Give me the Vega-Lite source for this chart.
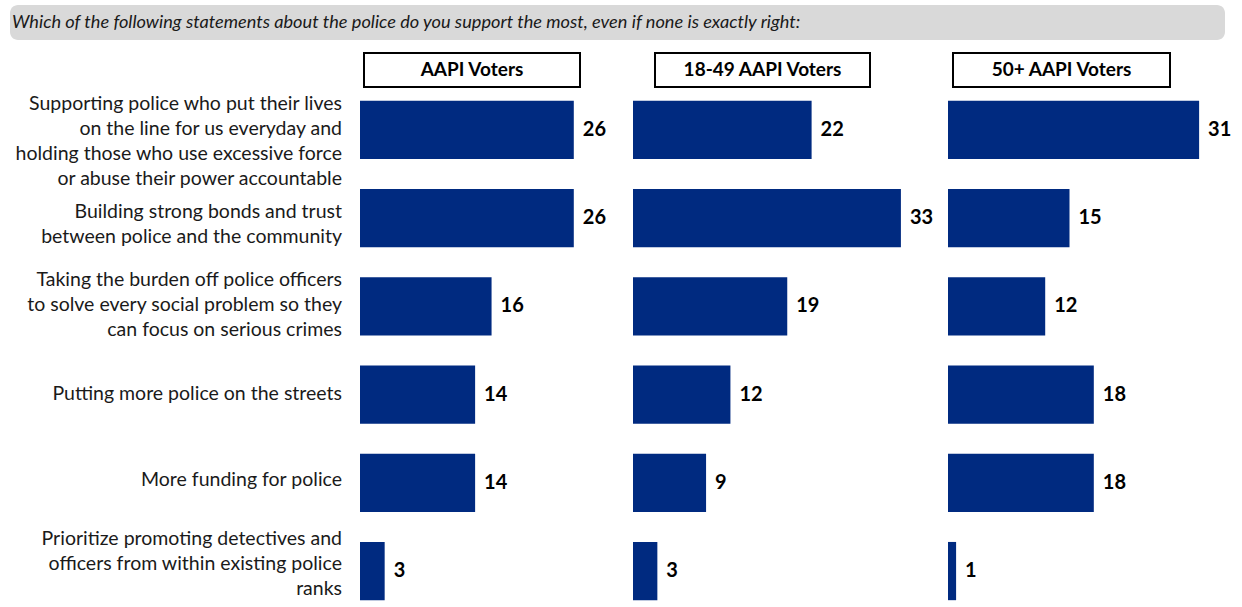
{
  "$schema": "https://vega.github.io/schema/vega-lite/v6.json",
  "padding": {"left": 10, "top": 5, "right": 0, "bottom": 0},
  "background": "white",
  "config": {"view": {"stroke": null}, "font": "Lato"},
  "datasets": {
    "bars": [
      {"group": "AAPI Voters", "statement": "Supporting police who put their lives|on the line for us everyday and|holding those who use excessive force|or abuse their power accountable", "value": 26},
      {"group": "AAPI Voters", "statement": "Building strong bonds and trust|between police and the community", "value": 26},
      {"group": "AAPI Voters", "statement": "Taking the burden off police officers|to solve every social problem so they|can focus on serious crimes", "value": 16},
      {"group": "AAPI Voters", "statement": "Putting more police on the streets", "value": 14},
      {"group": "AAPI Voters", "statement": "More funding for police", "value": 14},
      {"group": "AAPI Voters", "statement": "Prioritize promoting detectives and|officers from within existing police|ranks", "value": 3},
      {"group": "18-49 AAPI Voters", "statement": "Supporting police who put their lives|on the line for us everyday and|holding those who use excessive force|or abuse their power accountable", "value": 22},
      {"group": "18-49 AAPI Voters", "statement": "Building strong bonds and trust|between police and the community", "value": 33},
      {"group": "18-49 AAPI Voters", "statement": "Taking the burden off police officers|to solve every social problem so they|can focus on serious crimes", "value": 19},
      {"group": "18-49 AAPI Voters", "statement": "Putting more police on the streets", "value": 12},
      {"group": "18-49 AAPI Voters", "statement": "More funding for police", "value": 9},
      {"group": "18-49 AAPI Voters", "statement": "Prioritize promoting detectives and|officers from within existing police|ranks", "value": 3},
      {"group": "50+ AAPI Voters", "statement": "Supporting police who put their lives|on the line for us everyday and|holding those who use excessive force|or abuse their power accountable", "value": 31},
      {"group": "50+ AAPI Voters", "statement": "Building strong bonds and trust|between police and the community", "value": 15},
      {"group": "50+ AAPI Voters", "statement": "Taking the burden off police officers|to solve every social problem so they|can focus on serious crimes", "value": 12},
      {"group": "50+ AAPI Voters", "statement": "Putting more police on the streets", "value": 18},
      {"group": "50+ AAPI Voters", "statement": "More funding for police", "value": 18},
      {"group": "50+ AAPI Voters", "statement": "Prioritize promoting detectives and|officers from within existing police|ranks", "value": 1}
    ]
  },
  "spacing": 12,
  "vconcat": [
    {
      "data": {"values": [{"q": "Which of the following statements about the police do you support the most, even if none is exactly right:"}]},
      "width": 1215,
      "height": 35,
      "view": {"fill": "#d9d9d9", "cornerRadius": 8, "stroke": null},
      "mark": {"type": "text", "align": "left", "baseline": "middle", "dx": 2, "font": "Lato", "fontStyle": "italic", "fontSize": 18.2, "color": "#1a1a1a"},
      "encoding": {
        "text": {"field": "q"},
        "x": {"datum": 0, "type": "quantitative", "scale": {"domain": [0, 1]}, "axis": null}
      }
    },
    {
      "spacing": 4,
      "vconcat": [
        {
          "spacing": 0,
          "hconcat": [
            {"data": {"values": []}, "width": 353, "height": 34, "view": {"fill": "transparent", "stroke": null}, "mark": "text", "encoding": {}},
            {"data": {"values": [{"h": "AAPI Voters"}]}, "width": 216, "height": 34, "view": {"stroke": "black", "strokeWidth": 2, "fill": "white"}, "mark": {"type": "text", "font": "Lato", "fontWeight": "bold", "fontSize": 19, "color": "black"}, "encoding": {"text": {"field": "h"}}},
            {"data": {"values": []}, "width": 73, "height": 34, "view": {"fill": "transparent", "stroke": null}, "mark": "text", "encoding": {}},
            {"data": {"values": [{"h": "18-49 AAPI Voters"}]}, "width": 215, "height": 34, "view": {"stroke": "black", "strokeWidth": 2, "fill": "white"}, "mark": {"type": "text", "font": "Lato", "fontWeight": "bold", "fontSize": 19, "color": "black"}, "encoding": {"text": {"field": "h"}}},
            {"data": {"values": []}, "width": 81, "height": 34, "view": {"fill": "transparent", "stroke": null}, "mark": "text", "encoding": {}},
            {"data": {"values": [{"h": "50+ AAPI Voters"}]}, "width": 217, "height": 34, "view": {"stroke": "black", "strokeWidth": 2, "fill": "white"}, "mark": {"type": "text", "font": "Lato", "fontWeight": "bold", "fontSize": 19, "color": "black"}, "encoding": {"text": {"field": "h"}}}
          ]
        },
        {
          "spacing": 0,
          "hconcat": [
            {
              "data": {"name": "bars"},
              "transform": [{"filter": "datum.group == 'AAPI Voters'"}],
              "width": 350,
              "height": 517,
              "encoding": {
                "y": {"field": "statement", "type": "nominal", "sort": null,
                  "scale": {"paddingInner": 0.34, "paddingOuter": 0.1,
                    "domain": [
                      "Supporting police who put their lives|on the line for us everyday and|holding those who use excessive force|or abuse their power accountable",
                      "Building strong bonds and trust|between police and the community",
                      "Taking the burden off police officers|to solve every social problem so they|can focus on serious crimes",
                      "Putting more police on the streets",
                      "More funding for police",
                      "Prioritize promoting detectives and|officers from within existing police|ranks"
                    ]}, "axis": null},
                "x": {"datum": 1, "type": "quantitative", "scale": {"domain": [0, 1], "nice": false}, "axis": null},
                "text": {"field": "statement"}
              },
              "layer": [
                {"transform": [{"filter": "length(split(datum.statement, '|')) == 1"}],
                 "mark": {"type": "text", "align": "right", "baseline": "middle", "dx": -18, "dy": 0, "lineBreak": "|", "lineHeight": 25, "font": "Lato", "fontSize": 19.5, "color": "#1a1a1a"}},
                {"transform": [{"filter": "length(split(datum.statement, '|')) == 2"}],
                 "mark": {"type": "text", "align": "right", "baseline": "middle", "dx": -18, "dy": -9, "lineBreak": "|", "lineHeight": 25, "font": "Lato", "fontSize": 19.5, "color": "#1a1a1a"}},
                {"transform": [{"filter": "length(split(datum.statement, '|')) == 3"}],
                 "mark": {"type": "text", "align": "right", "baseline": "middle", "dx": -18, "dy": -27, "lineBreak": "|", "lineHeight": 25, "font": "Lato", "fontSize": 19.5, "color": "#1a1a1a"}},
                {"transform": [{"filter": "length(split(datum.statement, '|')) == 4"}],
                 "mark": {"type": "text", "align": "right", "baseline": "middle", "dx": -18, "dy": -31, "lineBreak": "|", "lineHeight": 25, "font": "Lato", "fontSize": 19.5, "color": "#1a1a1a"}}
              ]
            },
            {
              "data": {"name": "bars"},
              "transform": [{"filter": "datum.group == 'AAPI Voters'"}],
              "width": 273,
              "height": 517,
              "encoding": {
                "y": {"field": "statement", "type": "nominal", "sort": null,
                  "scale": {"paddingInner": 0.34, "paddingOuter": 0.1}, "axis": null},
                "x": {"field": "value", "type": "quantitative", "scale": {"domain": [0, 33.2], "nice": false}, "axis": null}
              },
              "layer": [
                {"mark": {"type": "bar", "color": "#002a80"}},
                {"mark": {"type": "text", "align": "left", "baseline": "middle", "dx": 9, "font": "Lato", "fontWeight": "bold", "fontSize": 20, "color": "black"}, "encoding": {"text": {"field": "value"}}}
              ]
            },
            {
              "data": {"name": "bars"},
              "transform": [{"filter": "datum.group == '18-49 AAPI Voters'"}],
              "width": 315,
              "height": 517,
              "encoding": {
                "y": {"field": "statement", "type": "nominal", "sort": null,
                  "scale": {"paddingInner": 0.34, "paddingOuter": 0.1}, "axis": null},
                "x": {"field": "value", "type": "quantitative", "scale": {"domain": [0, 38.8], "nice": false}, "axis": null}
              },
              "layer": [
                {"mark": {"type": "bar", "color": "#002a80"}},
                {"mark": {"type": "text", "align": "left", "baseline": "middle", "dx": 9, "font": "Lato", "fontWeight": "bold", "fontSize": 20, "color": "black"}, "encoding": {"text": {"field": "value"}}}
              ]
            },
            {
              "data": {"name": "bars"},
              "transform": [{"filter": "datum.group == '50+ AAPI Voters'"}],
              "width": 290,
              "height": 517,
              "encoding": {
                "y": {"field": "statement", "type": "nominal", "sort": null,
                  "scale": {"paddingInner": 0.34, "paddingOuter": 0.1}, "axis": null},
                "x": {"field": "value", "type": "quantitative", "scale": {"domain": [0, 35.8], "nice": false}, "axis": null}
              },
              "layer": [
                {"mark": {"type": "bar", "color": "#002a80"}},
                {"mark": {"type": "text", "align": "left", "baseline": "middle", "dx": 9, "font": "Lato", "fontWeight": "bold", "fontSize": 20, "color": "black"}, "encoding": {"text": {"field": "value"}}}
              ]
            }
          ]
        }
      ]
    }
  ]
}
